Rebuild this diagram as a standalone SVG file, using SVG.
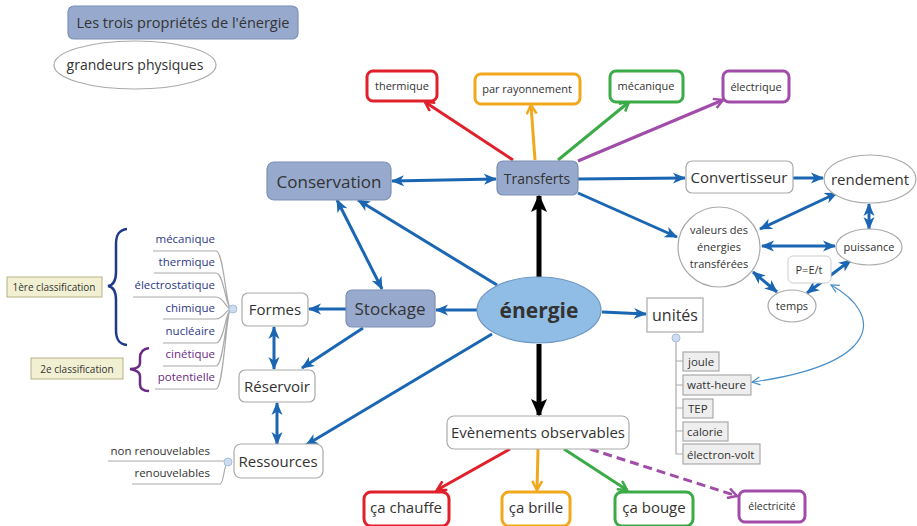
<svg xmlns="http://www.w3.org/2000/svg" width="917" height="526" viewBox="0 0 917 526">
<style>
text{font-family:"Open Sans","Noto Sans",sans-serif;fill:#333}
.blue{fill:#97aacd;stroke:#7d90b5;stroke-width:1.2}
.white{fill:#fff;stroke:#aaa;stroke-width:1.2}
.unit{fill:#eee;stroke:#aaa;stroke-width:1.2}
.c{stroke:#1a66b3;stroke-width:3;fill:none}
.k{stroke:#000;stroke-width:5;fill:none}
.it{font-size:11.5px;fill:#2e3a87;text-anchor:end}
.ip{font-size:11.5px;fill:#6a2a86;text-anchor:end}
.br{stroke:#aaa;stroke-width:1.2;fill:none}
.dot{fill:#cddcf0;stroke:#a8bedc;stroke-width:1}
</style>
<defs>
<marker id="ab" markerUnits="userSpaceOnUse" markerWidth="13" markerHeight="12" refX="12" refY="6" orient="auto-start-reverse"><path d="M0,0.5 L13,6 L0,11.5 L3.5,6 z" fill="#1a66b3"/></marker>
<marker id="ak" markerUnits="userSpaceOnUse" markerWidth="18" markerHeight="16" refX="16" refY="8" orient="auto"><path d="M0,0 L18,8 L0,16 L4,8 z" fill="#000"/></marker>
<marker id="ar" markerUnits="userSpaceOnUse" markerWidth="12" markerHeight="12" refX="10" refY="6" orient="auto"><path d="M1,1 L10,6 L1,11" fill="none" stroke="#e0202a" stroke-width="2.5"/></marker>
<marker id="ao" markerUnits="userSpaceOnUse" markerWidth="12" markerHeight="12" refX="10" refY="6" orient="auto"><path d="M1,1 L10,6 L1,11" fill="none" stroke="#f2a81d" stroke-width="2.5"/></marker>
<marker id="ag" markerUnits="userSpaceOnUse" markerWidth="12" markerHeight="12" refX="10" refY="6" orient="auto"><path d="M1,1 L10,6 L1,11" fill="none" stroke="#3aab47" stroke-width="2.5"/></marker>
<marker id="ap" markerUnits="userSpaceOnUse" markerWidth="12" markerHeight="12" refX="10" refY="6" orient="auto"><path d="M1,1 L10,6 L1,11" fill="none" stroke="#a04ca8" stroke-width="2.5"/></marker>
<marker id="at" markerUnits="userSpaceOnUse" markerWidth="10" markerHeight="10" refX="9" refY="5" orient="auto-start-reverse"><path d="M1,1 L9,5 L1,9" fill="none" stroke="#4a90c8" stroke-width="1.2"/></marker>
</defs>

<g id="legend-title"><rect x="68" y="6" width="230" height="33" rx="6" class="blue"/><text x="183" y="28" font-size="14.5" text-anchor="middle">Les trois propriétés de l'énergie</text></g>
<g id="legend-grandeurs"><ellipse cx="135" cy="65" rx="81" ry="24" fill="#fff" stroke="#aaa" stroke-width="1.2"/><text x="135" y="70" font-size="14" text-anchor="middle">grandeurs physiques</text></g>

<g id="connectors">
<line x1="392" y1="181" x2="496" y2="179" class="c" marker-start="url(#ab)" marker-end="url(#ab)"/>
<line x1="578" y1="179" x2="685" y2="178" class="c" marker-end="url(#ab)"/>
<line x1="578" y1="193" x2="677" y2="237" class="c" marker-end="url(#ab)"/>
<line x1="793" y1="178" x2="823" y2="178" class="c" marker-end="url(#ab)"/>
<line x1="837" y1="193" x2="760" y2="229" class="c" marker-start="url(#ab)" marker-end="url(#ab)"/>
<line x1="869" y1="204" x2="869" y2="229" class="c" marker-start="url(#ab)" marker-end="url(#ab)"/>
<line x1="762" y1="246" x2="835" y2="246" class="c" marker-start="url(#ab)" marker-end="url(#ab)"/>
<line x1="753" y1="272" x2="777" y2="292" class="c" marker-start="url(#ab)" marker-end="url(#ab)"/>
<line x1="807" y1="293" x2="851" y2="260" class="c" marker-start="url(#ab)" marker-end="url(#ab)"/>
<line x1="602" y1="312" x2="646" y2="314" class="c" marker-end="url(#ab)"/>
<line x1="497" y1="285" x2="358" y2="200" class="c" marker-end="url(#ab)"/>
<line x1="337" y1="200" x2="382" y2="289" class="c" marker-start="url(#ab)" marker-end="url(#ab)"/>
<line x1="477" y1="310" x2="436" y2="310" class="c" marker-end="url(#ab)"/>
<line x1="346" y1="309" x2="309" y2="309" class="c" marker-end="url(#ab)"/>
<line x1="363" y1="328" x2="302" y2="368" class="c" marker-end="url(#ab)"/>
<line x1="274" y1="327" x2="274" y2="369" class="c" marker-start="url(#ab)" marker-end="url(#ab)"/>
<line x1="277" y1="403" x2="277" y2="444" class="c" marker-start="url(#ab)" marker-end="url(#ab)"/>
<line x1="492" y1="334" x2="306" y2="445" class="c" marker-end="url(#ab)"/>
<line x1="539" y1="277" x2="539" y2="196" class="k" marker-end="url(#ak)"/>
<line x1="539" y1="344" x2="539" y2="415" class="k" marker-end="url(#ak)"/>
<line x1="513" y1="160" x2="425" y2="102" stroke="#e0202a" stroke-width="3" marker-end="url(#ar)"/>
<line x1="535" y1="160" x2="531" y2="105" stroke="#f2a81d" stroke-width="3" marker-end="url(#ao)"/>
<line x1="558" y1="160" x2="629" y2="102" stroke="#3aab47" stroke-width="3" marker-end="url(#ag)"/>
<line x1="578" y1="161" x2="723" y2="100" stroke="#a04ca8" stroke-width="3" marker-end="url(#ap)"/>
<line x1="510" y1="449" x2="437" y2="490" stroke="#e0202a" stroke-width="3" marker-end="url(#ar)"/>
<line x1="538" y1="449" x2="537" y2="490" stroke="#f2a81d" stroke-width="3" marker-end="url(#ao)"/>
<line x1="564" y1="449" x2="627" y2="490" stroke="#3aab47" stroke-width="3" marker-end="url(#ag)"/>
<line x1="590" y1="449" x2="737" y2="496" stroke="#a04ca8" stroke-width="3" stroke-dasharray="9,5" marker-end="url(#ap)"/>
<path d="M831 285 C 885 315, 880 365, 752 382" stroke="#4a90c8" stroke-width="1.2" fill="none" marker-start="url(#at)" marker-end="url(#at)"/>
</g>

<g id="transferts"><rect x="497" y="161" width="81" height="34" rx="6" class="blue"/><text x="537" y="184" font-size="14" text-anchor="middle">Transferts</text></g>
<g id="conservation"><rect x="267" y="162" width="124" height="38" rx="7" class="blue"/><text x="329" y="188" font-size="17" text-anchor="middle">Conservation</text></g>
<g id="stockage"><rect x="346" y="290" width="89" height="37" rx="6" class="blue"/><text x="390" y="315" font-size="17" text-anchor="middle">Stockage</text></g>
<g id="energie"><ellipse cx="539" cy="310" rx="62" ry="33" fill="#90bde6" stroke="#6e97c2" stroke-width="1.2"/><text x="539" y="318" font-size="21" font-weight="bold" text-anchor="middle">énergie</text></g>

<g id="thermique-t"><rect x="367" y="71" width="70" height="30" rx="6" fill="#fff" stroke="#e0202a" stroke-width="3"/><text x="402" y="90" font-size="11" text-anchor="middle">thermique</text></g>
<g id="rayonnement"><rect x="475" y="74" width="105" height="30" rx="6" fill="#fff" stroke="#f2a81d" stroke-width="3"/><text x="527" y="93" font-size="11" text-anchor="middle">par rayonnement</text></g>
<g id="mecanique-t"><rect x="610" y="71" width="73" height="31" rx="6" fill="#fff" stroke="#3aab47" stroke-width="3"/><text x="646" y="90" font-size="11" text-anchor="middle">mécanique</text></g>
<g id="electrique"><rect x="723" y="71" width="66" height="31" rx="6" fill="#fff" stroke="#a04ca8" stroke-width="3"/><text x="756" y="91" font-size="11" text-anchor="middle">électrique</text></g>

<g id="convertisseur"><rect x="686" y="161" width="107" height="32" rx="6" class="white"/><text x="739" y="183" font-size="15" text-anchor="middle">Convertisseur</text></g>
<g id="rendement"><ellipse cx="870" cy="179" rx="46" ry="24" class="white"/><text x="870" y="185" font-size="15" text-anchor="middle">rendement</text></g>
<g id="valeurs"><ellipse cx="719" cy="247" rx="41" ry="40" class="white"/><text font-size="11" text-anchor="middle"><tspan x="719" y="234">valeurs des</tspan><tspan x="719" y="251">énergies</tspan><tspan x="719" y="268">transférées</tspan></text></g>
<g id="puissance"><ellipse cx="869" cy="247" rx="33" ry="18" class="white"/><text x="869" y="251" font-size="11" text-anchor="middle">puissance</text></g>
<g id="pet"><rect x="788" y="256" width="43" height="27" rx="5" fill="#fff" stroke="#ccc" stroke-width="1"/><text x="809" y="274" font-size="11" text-anchor="middle">P=E/t</text></g>
<g id="temps"><ellipse cx="792" cy="306" rx="24" ry="16" class="white"/><text x="792" y="310" font-size="11" text-anchor="middle">temps</text></g>

<g id="unites"><rect x="647" y="298" width="56" height="34" class="white"/><text x="675" y="321" font-size="16" text-anchor="middle">unités</text>
<path d="M676 341 V454 M676 361 H683 M676 385 H683 M676 408 H683 M676 431 H683 M676 454 H683" class="br"/>
<circle cx="676" cy="338" r="4" class="dot"/></g>
<g id="joule"><rect x="683" y="352" width="36" height="19" class="unit"/><text x="688" y="366" font-size="11.5">joule</text></g>
<g id="watt-heure"><rect x="683" y="375" width="68" height="20" class="unit"/><text x="687" y="389" font-size="11.5">watt-heure</text></g>
<g id="tep"><rect x="683" y="399" width="30" height="19" class="unit"/><text x="688" y="413" font-size="11.5">TEP</text></g>
<g id="calorie"><rect x="683" y="422" width="45" height="19" class="unit"/><text x="687" y="436" font-size="11.5">calorie</text></g>
<g id="electron-volt"><rect x="683" y="444" width="77" height="20" class="unit"/><text x="687" y="459" font-size="11.5">électron-volt</text></g>

<g id="evenements"><rect x="447" y="416" width="182" height="33" rx="7" class="white"/><text x="538" y="438" font-size="15" text-anchor="middle">Evènements observables</text></g>
<g id="chauffe"><rect x="364" y="492" width="85" height="34" rx="7" fill="#fff" stroke="#e0202a" stroke-width="3"/><text x="406" y="513" font-size="15" text-anchor="middle">ça chauffe</text></g>
<g id="brille"><rect x="502" y="492" width="68" height="34" rx="7" fill="#fff" stroke="#f2a81d" stroke-width="3"/><text x="536" y="513" font-size="15" text-anchor="middle">ça brille</text></g>
<g id="bouge"><rect x="615" y="492" width="78" height="34" rx="7" fill="#fff" stroke="#3aab47" stroke-width="3"/><text x="654" y="513" font-size="15" text-anchor="middle">ça bouge</text></g>
<g id="electricite"><rect x="739" y="491" width="66" height="31" rx="6" fill="#fff" stroke="#a04ca8" stroke-width="3"/><text x="772" y="510" font-size="10.5" text-anchor="middle">électricité</text></g>

<g id="formes"><rect x="242" y="293" width="66" height="33" rx="6" class="white"/><text x="275" y="315" font-size="15" text-anchor="middle">Formes</text>
<path d="M153 251 H216 C224 251 226 309 231 309 M154 273 H216 C224 273 226 309 231 309 M133 297 H216 C224 297 226 309 231 309 M163 319 H216 C224 319 226 309 231 309 M163 343 H216 C224 343 226 309 231 309 M163 366 H216 C224 366 226 309 231 309 M155 389 H216 C224 389 226 309 231 309" class="br"/>
<circle cx="233" cy="309" r="4" class="dot"/>
<text class="it" x="215" y="243">mécanique</text>
<text class="it" x="215" y="266">thermique</text>
<text class="it" x="215" y="289">électrostatique</text>
<text class="it" x="215" y="312">chimique</text>
<text class="it" x="215" y="335">nucléaire</text>
<text class="ip" x="215" y="358">cinétique</text>
<text class="ip" x="215" y="381">potentielle</text></g>

<g id="reservoir"><rect x="239" y="370" width="76" height="32" rx="6" class="white"/><text x="277" y="392" font-size="15" text-anchor="middle">Réservoir</text></g>
<g id="ressources"><rect x="234" y="444" width="89" height="34" rx="7" class="white"/><text x="278" y="467" font-size="15" text-anchor="middle">Ressources</text>
<path d="M108 461 H228 M132 484 H220 C224 484 224 462 228 462" class="br"/>
<circle cx="228" cy="462" r="4" class="dot"/>
<text x="210" y="455" font-size="11.5" text-anchor="end">non renouvelables</text>
<text x="210" y="477" font-size="11.5" text-anchor="end">renouvelables</text></g>

<g id="classif1"><path d="M127 229 C118 230 116 236 116 244 V272 C116 280 114 285 108 286 C114 287 116 292 116 300 V330 C116 338 118 344 127 345" fill="none" stroke="#1f3a8c" stroke-width="2.5"/>
<rect x="7" y="277" width="95" height="20" fill="#f2f0d2" stroke="#b5b085" stroke-width="1"/><text x="54" y="291" font-size="10" text-anchor="middle">1ère classification</text></g>
<g id="classif2"><path d="M149 348 C142 349 140 353 140 358 V363 C140 367 136 369 130 369 C136 370 140 372 140 376 V384 C140 388 142 391 149 391" fill="none" stroke="#6a2a86" stroke-width="2.5"/>
<rect x="31" y="358" width="92" height="21" fill="#f2f0d2" stroke="#b5b085" stroke-width="1"/><text x="77" y="373" font-size="10" text-anchor="middle">2e classification</text></g>
</svg>
